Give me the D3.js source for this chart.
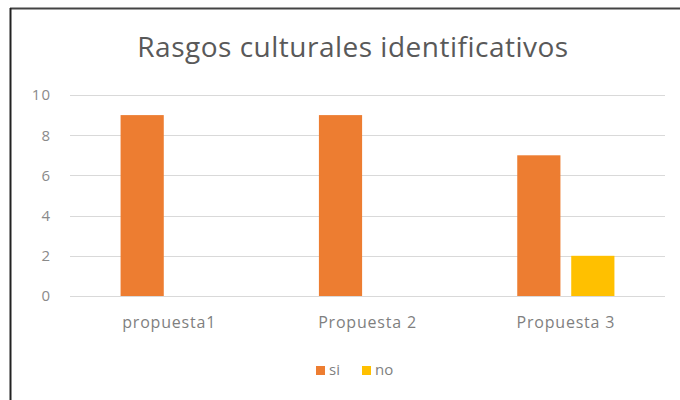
<!DOCTYPE html>
<html><head><meta charset="utf-8">
<script src="https://cdn.jsdelivr.net/npm/d3@7"></script>
<style>body{margin:0;background:#fff;}svg{display:block;font-family:"Open Sans",Calibri,sans-serif;}</style>
</head><body><svg id="c" width="680" height="400"></svg>
<script>
const categories = ["propuesta1", "Propuesta 2", "Propuesta 3"];
const seriesNames = ["si", "no"];
const siValues = [9, 9, 7];
const noValues = [0, 0, 2];
const yTicks = [0, 2, 4, 6, 8, 10];
const colors = ["#ED7D31", "#FFC000"];
const title = "Rasgos culturales identificativos";

const svg = d3.select("#c");
// frame
svg.append("rect").attr("x",0).attr("y",0).attr("width",680).attr("height",400).attr("fill","#fff");
svg.append("line").attr("x1",10).attr("x2",680).attr("y1",8.5).attr("y2",8.5).attr("stroke","#444").attr("stroke-width",2);
svg.append("line").attr("x1",10.5).attr("x2",10.5).attr("y1",8).attr("y2",400).attr("stroke","#222").attr("stroke-width",2);

const m = {left:70, right:665, top:95, bottom:296};
const x0 = d3.scaleBand().domain(categories).range([m.left, m.right]).paddingInner(0.51).paddingOuter(0.255);
const x1 = d3.scaleBand().domain(seriesNames).range([0, x0.bandwidth()]).paddingInner(0.2);
const y = d3.scaleLinear().domain([0,10]).range([m.bottom, m.top]);

// gridlines
svg.append("g").selectAll("line").data(yTicks).join("line")
  .attr("x1", m.left).attr("x2", m.right)
  .attr("y1", d=>Math.round(y(d))+0.5).attr("y2", d=>Math.round(y(d))+0.5)
  .attr("stroke","#d9d9d9").attr("stroke-width",1);

// y labels
const yAxis = d3.axisLeft(y).tickValues(yTicks).tickSize(0).tickPadding(0);
const ya = svg.append("g").attr("transform",`translate(${m.left-19},0)`).call(yAxis);
ya.select(".domain").remove();
ya.selectAll("text").attr("fill","#8a8a8a").style("font-size","15px").style("letter-spacing","1px").style("font-family","'Open Sans',sans-serif");

// bars
const data = categories.map((c,i)=>({cat:c, vals:[siValues[i], noValues[i]]}));
const g = svg.append("g");
data.forEach(d=>{
  g.selectAll(null).data(d.vals.map((v,j)=>({v, s:seriesNames[j], j}))).join("rect")
    .attr("x", e=>x0(d.cat)+x1(e.s)).attr("width", x1.bandwidth())
    .attr("y", e=>y(e.v)).attr("height", e=>y(0)-y(e.v))
    .attr("fill", e=>colors[e.j]);
});

// x labels
const xAxis = d3.axisBottom(x0).tickSize(0).tickPadding(0);
const xa = svg.append("g").attr("transform",`translate(0,${m.bottom+21})`).call(xAxis);
xa.select(".domain").remove();
xa.selectAll("text").attr("fill","#7f7f7f").style("font-size","16px").style("letter-spacing","0.8px").style("font-family","'Open Sans',sans-serif");

// title
svg.append("text").attr("x",353).attr("y",57).attr("text-anchor","middle")
  .attr("fill","#595959").style("font-size","28px").style("letter-spacing","0.5px").style("font-family","'Open Sans',sans-serif").text(title);

// legend
const leg = svg.append("g").attr("transform","translate(316,375)");
const legX = [0, 46];
seriesNames.forEach((s,i)=>{
  leg.append("rect").attr("x",legX[i]).attr("y",-9).attr("width",9).attr("height",9).attr("fill",colors[i]);
  leg.append("text").attr("x",legX[i]+13).attr("y",0).attr("fill","#7f7f7f")
    .style("font-size","15px").style("font-family","'Open Sans',sans-serif").text(s);
});
</script></body></html>
